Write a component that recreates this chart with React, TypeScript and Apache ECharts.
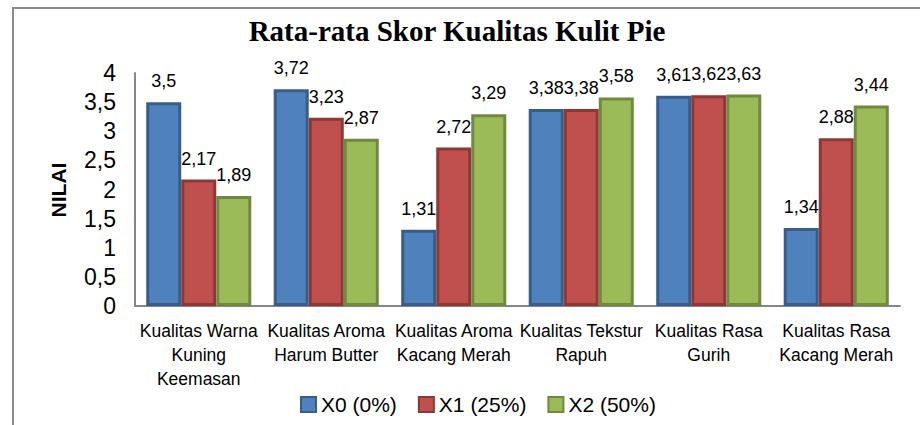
import React, { useEffect, useRef } from "react";
import * as echarts from "echarts";

const TITLE = "Rata-rata Skor Kualitas Kulit Pie";
const Y_NAME = "NILAI";
const CATEGORIES = [
  "Kualitas Warna\nKuning\nKeemasan",
  "Kualitas Aroma\nHarum Butter",
  "Kualitas Aroma\nKacang Merah",
  "Kualitas Tekstur\nRapuh",
  "Kualitas Rasa\nGurih",
  "Kualitas Rasa\nKacang Merah",
];
const SERIES_NAMES = ["X0 (0%)", "X1 (25%)", "X2 (50%)"];
const X0 = [3.5, 3.72, 1.31, 3.38, 3.61, 1.34];
const X1 = [2.17, 3.23, 2.72, 3.38, 3.62, 2.88];
const X2 = [1.89, 2.87, 3.29, 3.58, 3.63, 3.44];
const Y_MIN = 0;
const Y_MAX = 4;
const Y_STEP = 0.5;

const FILLS = ["#4F81BD", "#C0504D", "#9BBB59"];
const BORDERS = ["#385D8A", "#8C3836", "#71893F"];
const SANS = "'Liberation Sans', Arial, sans-serif";

const comma = (v: number) => String(v).replace(".", ",");

export default function App() {
  const ref = useRef<HTMLDivElement>(null);
  useEffect(() => {
    if (!ref.current) return;
    const chart = echarts.init(ref.current, null, { renderer: "svg" });
    const values = [X0, X1, X2];
    chart.setOption({
      animation: false,
      backgroundColor: "#ffffff",
      grid: { left: 135, right: 20, top: 73, bottom: 119, containLabel: false },
      legend: {
        left: 295,
        top: 389,
        itemWidth: 15,
        itemHeight: 15,
        itemGap: 21,
        icon: "rect",
        textStyle: { fontFamily: SANS, fontSize: 21, color: "#000" },
        data: SERIES_NAMES,
      },
      xAxis: {
        type: "category",
        data: CATEGORIES,
        axisLine: { show: true, lineStyle: { color: "#868686", width: 2 } },
        axisTick: { show: false },
        axisLabel: {
          interval: 0,
          margin: 13,
          color: "#000",
          fontFamily: SANS,
          fontSize: 17.5,
          lineHeight: 24,
        },
      },
      yAxis: {
        type: "value",
        min: Y_MIN,
        max: Y_MAX,
        interval: Y_STEP,
        splitLine: { show: false },
        axisLine: { show: true, lineStyle: { color: "#868686", width: 2 } },
        axisTick: { show: false },
        axisLabel: {
          margin: 19,
          color: "#000",
          fontFamily: SANS,
          fontSize: 23,
          padding: [6, 0, 0, 0],
          formatter: (v: number) => comma(v),
        },
      },
      series: SERIES_NAMES.map((name, i) => ({
        name,
        type: "bar",
        data: values[i],
        barGap: "0%",
        barCategoryGap: "17.6%",
        itemStyle: { color: FILLS[i], borderColor: BORDERS[i], borderWidth: 3 },
        label: {
          show: true,
          position: "top",
          distance: 12,
          color: "#000",
          fontFamily: SANS,
          fontSize: 18,
          formatter: (p: any) => comma(p.value),
        },
      })),
      graphic: [
        {
          type: "rect",
          silent: true,
          shape: { x: 13, y: 8, width: 1000, height: 1000 },
          style: { fill: "none", stroke: "#8a8a8a", lineWidth: 2 },
        },
        {
          type: "text",
          x: 457,
          y: 31,
          style: {
            text: TITLE,
            fontFamily: "'Liberation Serif', 'Times New Roman', serif",
            fontWeight: "bold",
            fontSize: 29,
            fill: "#000",
            textAlign: "center",
            textVerticalAlign: "middle",
          },
        },
        {
          type: "text",
          x: 58,
          y: 190,
          rotation: Math.PI / 2,
          style: {
            text: Y_NAME,
            fontFamily: SANS,
            fontWeight: "bold",
            fontSize: 21,
            fill: "#000",
            textAlign: "center",
            textVerticalAlign: "middle",
          },
        },
      ],
    });
    return () => chart.dispose();
  }, []);
  return (
    <div
      ref={ref}
      style={{ position: "fixed", left: 0, top: 0, width: 920, height: 425 }}
    />
  );
}
